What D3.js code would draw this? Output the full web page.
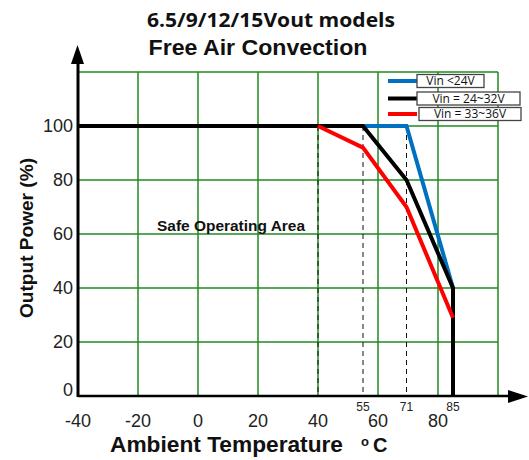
<!DOCTYPE html>
<html>
<head>
<meta charset="utf-8">
<script src="https://cdn.jsdelivr.net/npm/d3@7"></script>
<style>
  body { margin: 0; background: #fff; }
  svg { display: block; font-family: "Liberation Sans", Arial, sans-serif; }
</style>
</head>
<body>
<div id="chart"></div>
<script>
// derating data (ambient temp in C, output power in %)
var seriesNames = ["Vin <24V", "Vin = 24~32V", "Vin = 33~36V"];
var seriesColors = ["#0070c0", "#000000", "#ff0000"];
var blueTemp = [55, 69.5, 85];
var bluePower = [100, 100, 40];
var blackTemp = [-40, 55, 69.5, 85, 85];
var blackPower = [100, 100, 80, 40, 0];
var redTemp = [40, 55, 69.5, 85];
var redPower = [100, 92, 70, 29];

var xTicks = [-40, -20, 0, 20, 40, 60, 80];
var yTicks = [0, 20, 40, 60, 80, 100];
var markTemps = [55, 69.5, 85];
var markLabels = ["55", "71", "85"];
var dashTemps = [40, 55, 69.5];

var width = 529, height = 460;
var svg = d3.select("#chart").append("svg")
  .attr("width", width)
  .attr("height", height);

var x = d3.scaleLinear().domain([-40, 100]).range([78, 498]);
var y = d3.scaleLinear().domain([0, 120]).range([396, 72]);

// grid
var green = "#1f8a1f";
svg.append("g").selectAll("line")
  .data(d3.range(-40, 101, 20))
  .enter().append("line")
  .attr("x1", d => x(d)).attr("x2", d => x(d))
  .attr("y1", y(0)).attr("y2", y(120))
  .attr("stroke", green).attr("stroke-width", 1.5);
svg.append("g").selectAll("line")
  .data(d3.range(20, 121, 20))
  .enter().append("line")
  .attr("x1", x(-40)).attr("x2", x(100))
  .attr("y1", d => y(d)).attr("y2", d => y(d))
  .attr("stroke", green).attr("stroke-width", 1.5);

// dashed guides
svg.append("g").selectAll("line")
  .data(dashTemps)
  .enter().append("line")
  .attr("x1", d => x(d)).attr("x2", d => x(d))
  .attr("y1", y(100)).attr("y2", y(0))
  .attr("stroke", "#111").attr("stroke-width", 1)
  .attr("stroke-dasharray", "5,4");

// curves
var line = d3.line().x(d => x(d[0])).y(d => y(d[1]));
function pts(t, p) { return t.map((v, i) => [v, p[i]]); }
var curves = [
  { data: pts(blueTemp, bluePower), color: seriesColors[0] },
  { data: pts(blackTemp, blackPower), color: seriesColors[1] },
  { data: pts(redTemp, redPower), color: seriesColors[2] }
];
svg.append("g").selectAll("path")
  .data(curves)
  .enter().append("path")
  .attr("d", d => line(d.data))
  .attr("fill", "none")
  .attr("stroke", d => d.color)
  .attr("stroke-width", 4)
  .attr("stroke-linejoin", "miter");

// axes with arrows
svg.append("line")
  .attr("x1", x(-40)).attr("x2", 510)
  .attr("y1", y(0)).attr("y2", y(0))
  .attr("stroke", "#000").attr("stroke-width", 2.5);
svg.append("path")
  .attr("d", "M508,390L528,396.5L508,403Z")
  .attr("fill", "#000");
svg.append("line")
  .attr("x1", x(-40)).attr("x2", x(-40))
  .attr("y1", y(0) + 1).attr("y2", 60)
  .attr("stroke", "#000").attr("stroke-width", 3);
svg.append("path")
  .attr("d", "M71,64L77.5,45L84,64Z")
  .attr("fill", "#000");

// tick labels
svg.append("g").selectAll("text")
  .data(yTicks)
  .enter().append("text")
  .attr("x", 73)
  .attr("y", d => y(d) + (d === 0 ? -6 : 0))
  .attr("dy", "0.36em")
  .attr("text-anchor", "end")
  .attr("font-size", 18)
  .attr("fill", "#222")
  .text(d => d);
svg.append("g").selectAll("text")
  .data(xTicks)
  .enter().append("text")
  .attr("x", d => x(d))
  .attr("y", 427)
  .attr("text-anchor", "middle")
  .attr("font-size", 18)
  .attr("fill", "#222")
  .text(d => d);
svg.append("g").selectAll("text")
  .data(markTemps)
  .enter().append("text")
  .attr("x", d => x(d))
  .attr("y", 411)
  .attr("text-anchor", "middle")
  .attr("font-size", 12)
  .attr("fill", "#222")
  .text((d, i) => markLabels[i]);

// titles
svg.append("text")
  .attr("x", 271).attr("y", 27)
  .attr("text-anchor", "middle")
  .attr("font-family", "'Open Sans', sans-serif")
  .attr("font-weight", "bold")
  .attr("font-size", 20)
  .attr("textLength", 248)
  .attr("lengthAdjust", "spacingAndGlyphs")
  .attr("fill", "#111")
  .text("6.5/9/12/15Vout models");
svg.append("text")
  .attr("x", 258).attr("y", 55)
  .attr("text-anchor", "middle")
  .attr("font-weight", "bold")
  .attr("font-size", 22)
  .attr("textLength", 219)
  .attr("lengthAdjust", "spacingAndGlyphs")
  .attr("fill", "#111")
  .text("Free Air Convection");

svg.append("text")
  .attr("transform", "translate(33,238) rotate(-90)")
  .attr("text-anchor", "middle")
  .attr("font-weight", "bold")
  .attr("font-size", 18)
  .attr("textLength", 160)
  .attr("lengthAdjust", "spacingAndGlyphs")
  .attr("fill", "#111")
  .text("Output Power (%)");

svg.append("text")
  .attr("x", 110).attr("y", 452)
  .attr("font-weight", "bold")
  .attr("font-size", 22)
  .attr("textLength", 233)
  .attr("lengthAdjust", "spacingAndGlyphs")
  .attr("fill", "#111")
  .text("Ambient Temperature");
svg.append("text")
  .attr("x", 365).attr("y", 446)
  .attr("text-anchor", "middle")
  .attr("font-weight", "bold")
  .attr("font-size", 13)
  .attr("fill", "#111")
  .text("o");
svg.append("text")
  .attr("x", 373).attr("y", 452)
  .attr("font-weight", "bold")
  .attr("font-size", 20)
  .attr("fill", "#111")
  .text("C");

svg.append("text")
  .attr("x", 231).attr("y", 231)
  .attr("text-anchor", "middle")
  .attr("font-weight", "bold")
  .attr("font-size", 15)
  .attr("textLength", 148)
  .attr("lengthAdjust", "spacingAndGlyphs")
  .attr("fill", "#111")
  .text("Safe Operating Area");

// legend
var legendY = [81, 98.5, 114];
var boxes = [
  { x: 417, w: 67 },
  { x: 417, w: 103 },
  { x: 419, w: 102 }
];
var leg = svg.append("g").selectAll("g")
  .data(seriesNames)
  .enter().append("g");
leg.append("line")
  .attr("x1", 388).attr("x2", 417)
  .attr("y1", (d, i) => legendY[i]).attr("y2", (d, i) => legendY[i])
  .attr("stroke", (d, i) => seriesColors[i])
  .attr("stroke-width", 4);
leg.append("rect")
  .attr("x", (d, i) => boxes[i].x)
  .attr("y", (d, i) => legendY[i] - 6.5)
  .attr("width", (d, i) => boxes[i].w)
  .attr("height", 13)
  .attr("fill", "#fff")
  .attr("stroke", "#444")
  .attr("stroke-width", 1.3);
leg.append("text")
  .attr("x", (d, i) => boxes[i].x + boxes[i].w / 2)
  .attr("y", (d, i) => legendY[i])
  .attr("dy", "0.36em")
  .attr("text-anchor", "middle")
  .attr("font-family", "'Open Sans', sans-serif")
  .attr("font-size", 12)
  .attr("fill", "#111")
  .text(d => d);
</script>
</body>
</html>
